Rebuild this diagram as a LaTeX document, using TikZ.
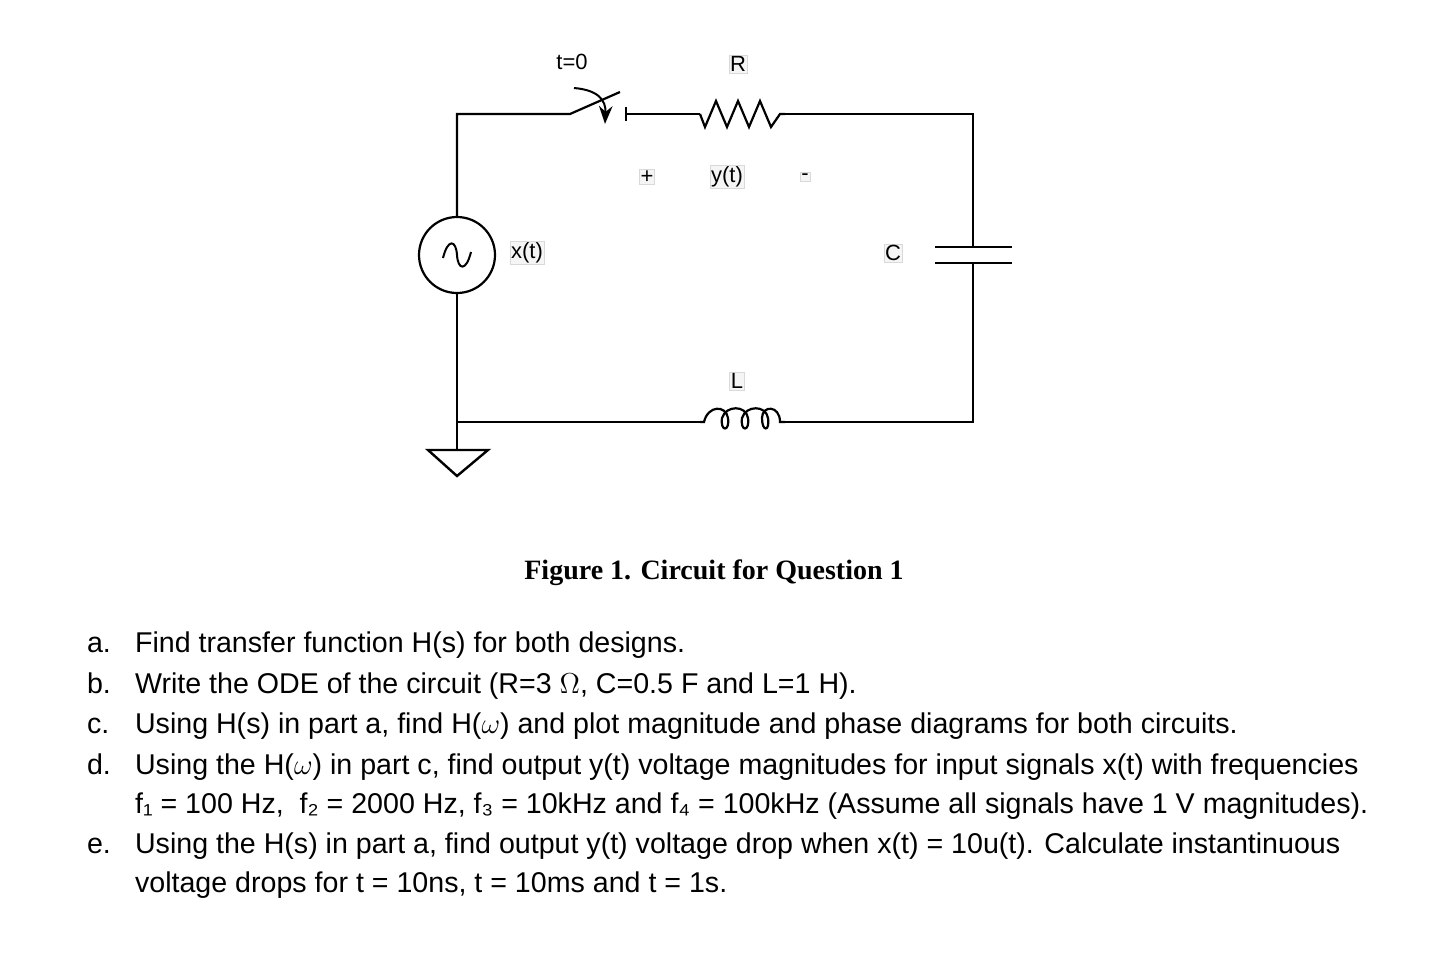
\documentclass[tikz,border=0pt]{standalone}
\usepackage{fontspec}
\setmainfont{Liberation Sans}
\newfontfamily\capfont{Liberation Serif}
\usetikzlibrary{arrows.meta,decorations.pathmorphing}
\tikzset{
  wire/.style={line width=1.1pt},
  lbl/.style={fill=gray!8,draw=gray!30,line width=0.2pt,inner sep=0.6pt,font=\fontsize{11}{13}\selectfont},
  item/.style={anchor=base west,font=\fontsize{14.3}{17}\selectfont},
}
\begin{document}
\begin{tikzpicture}[x=0.5pt,y=-0.5pt]
  \useasboundingbox (0,0) rectangle (1436,970);
  % corners
  \coordinate (tl) at (457,114);
  \coordinate (tr) at (973,114);
  \coordinate (br) at (973,422);
  \coordinate (bl) at (457,422);
  \coordinate (sw1) at (570,114);
  \coordinate (sw2) at (626,114);
  \coordinate (r1) at (700,114);
  \coordinate (r2) at (785,114);
  \coordinate (c1) at (973,247);
  \coordinate (c2) at (973,263);
  \coordinate (l1) at (700,422);
  \coordinate (l2) at (785,422);
  \coordinate (gnd) at (457,450);
  % source
  \node[circle,draw,line width=1.1pt,minimum size=38pt,inner sep=0pt] (src) at (457,255) {};
  \draw[line width=1pt] (443,258) .. controls (448,238) and (456,240) .. (457,255)
    .. controls (458,270) and (466,272) .. (471,252);
  % wires
  \draw[wire] (src.north) -- (tl) -- (sw1) -- (620,92);
  \draw[wire] (sw2) -- (r1);
  \draw[wire] (626,107) -- (626,121);
  \draw[-{Stealth[length=9pt]},line width=1pt] (574,88) .. controls (598,90) and (606,100) .. (605,124);
  \draw[wire] (r1) -- (705,127) -- (716,101) -- (727,127) -- (738,101) -- (749,127) -- (760,101) -- (771,127) -- (780,114) -- (r2);
  \draw[wire] (r2) -- (tr) -- (c1);
  \draw[wire] (935,247) -- (1012,247);
  \draw[wire] (935,263) -- (1012,263);
  \draw[wire] (c2) -- (br) -- (l2);
  \draw[wire] (l2) -- (780,422)
    .. controls (780,405) and (762,405) .. (762,418) .. controls (762,432) and (770,432) .. (768,418)
    .. controls (766,405) and (746,405) .. (742,418) .. controls (740,432) and (750,432) .. (748,418)
    .. controls (746,405) and (726,405) .. (722,418) .. controls (720,432) and (730,432) .. (728,418)
    .. controls (726,405) and (708,405) .. (704,422) -- (l1);
  \draw[wire] (l1) -- (bl) -- (src.south);
  \draw[wire] (bl) -- (gnd);
  \draw[line width=1.2pt] (428,450) -- (488,450) -- (457,476) -- cycle;
  % labels
  \node[font=\fontsize{11}{13}\selectfont] (tlab) at (572,62) {t=0};
  \node[lbl] (rlab) at (738,64) {R};
  \node[lbl] (plus) at (647,177) {+};
  \node[lbl] (ylab) at (727,177) {y(t)};
  \node[lbl] (minus) at (805,177) {-};
  \node[lbl] (xlab) at (527,253) {x(t)};
  \node[lbl] (clab) at (893,253) {C};
  \node[lbl] (llab) at (737,381) {L};
  % caption and questions
  \node[font=\capfont\bfseries\fontsize{14}{16}\selectfont] (cap) at (714,573) {Figure 1. Circuit for Question 1};
  \node[item] (qa) at (80,652) {a.};
  \node[item] (ta) at (128,652) {Find transfer function H(s) for both designs.};
  \node[item] (qb) at (80,693) {b.};
  \node[item] (tb) at (128,693) {Write the ODE of the circuit (R=3 $\Omega$, C=0.5 F and L=1 H).};
  \node[item] (qc) at (80,733) {c.};
  \node[item] (tc) at (128,733) {Using H(s) in part a, find H($\omega$) and plot magnitude and phase diagrams for both circuits.};
  \node[item] (qd) at (80,774) {d.};
  \node[item] (td) at (128,774) {Using the H($\omega$) in part c, find output y(t) voltage magnitudes for input signals x(t) with frequencies};
  \node[item] (td2) at (128,813) {f₁ = 100 Hz,\ \ f₂ = 2000 Hz, f₃ = 10kHz and f₄ = 100kHz (Assume all signals have 1 V magnitudes).};
  \node[item] (qe) at (80,853) {e.};
  \node[item] (te) at (128,853) {Using the H(s) in part a, find output y(t) voltage drop when x(t) = 10u(t). Calculate instantinuous};
  \node[item] (te2) at (128,892) {voltage drops for t = 10ns, t = 10ms and t = 1s.};
\end{tikzpicture}
\end{document}
